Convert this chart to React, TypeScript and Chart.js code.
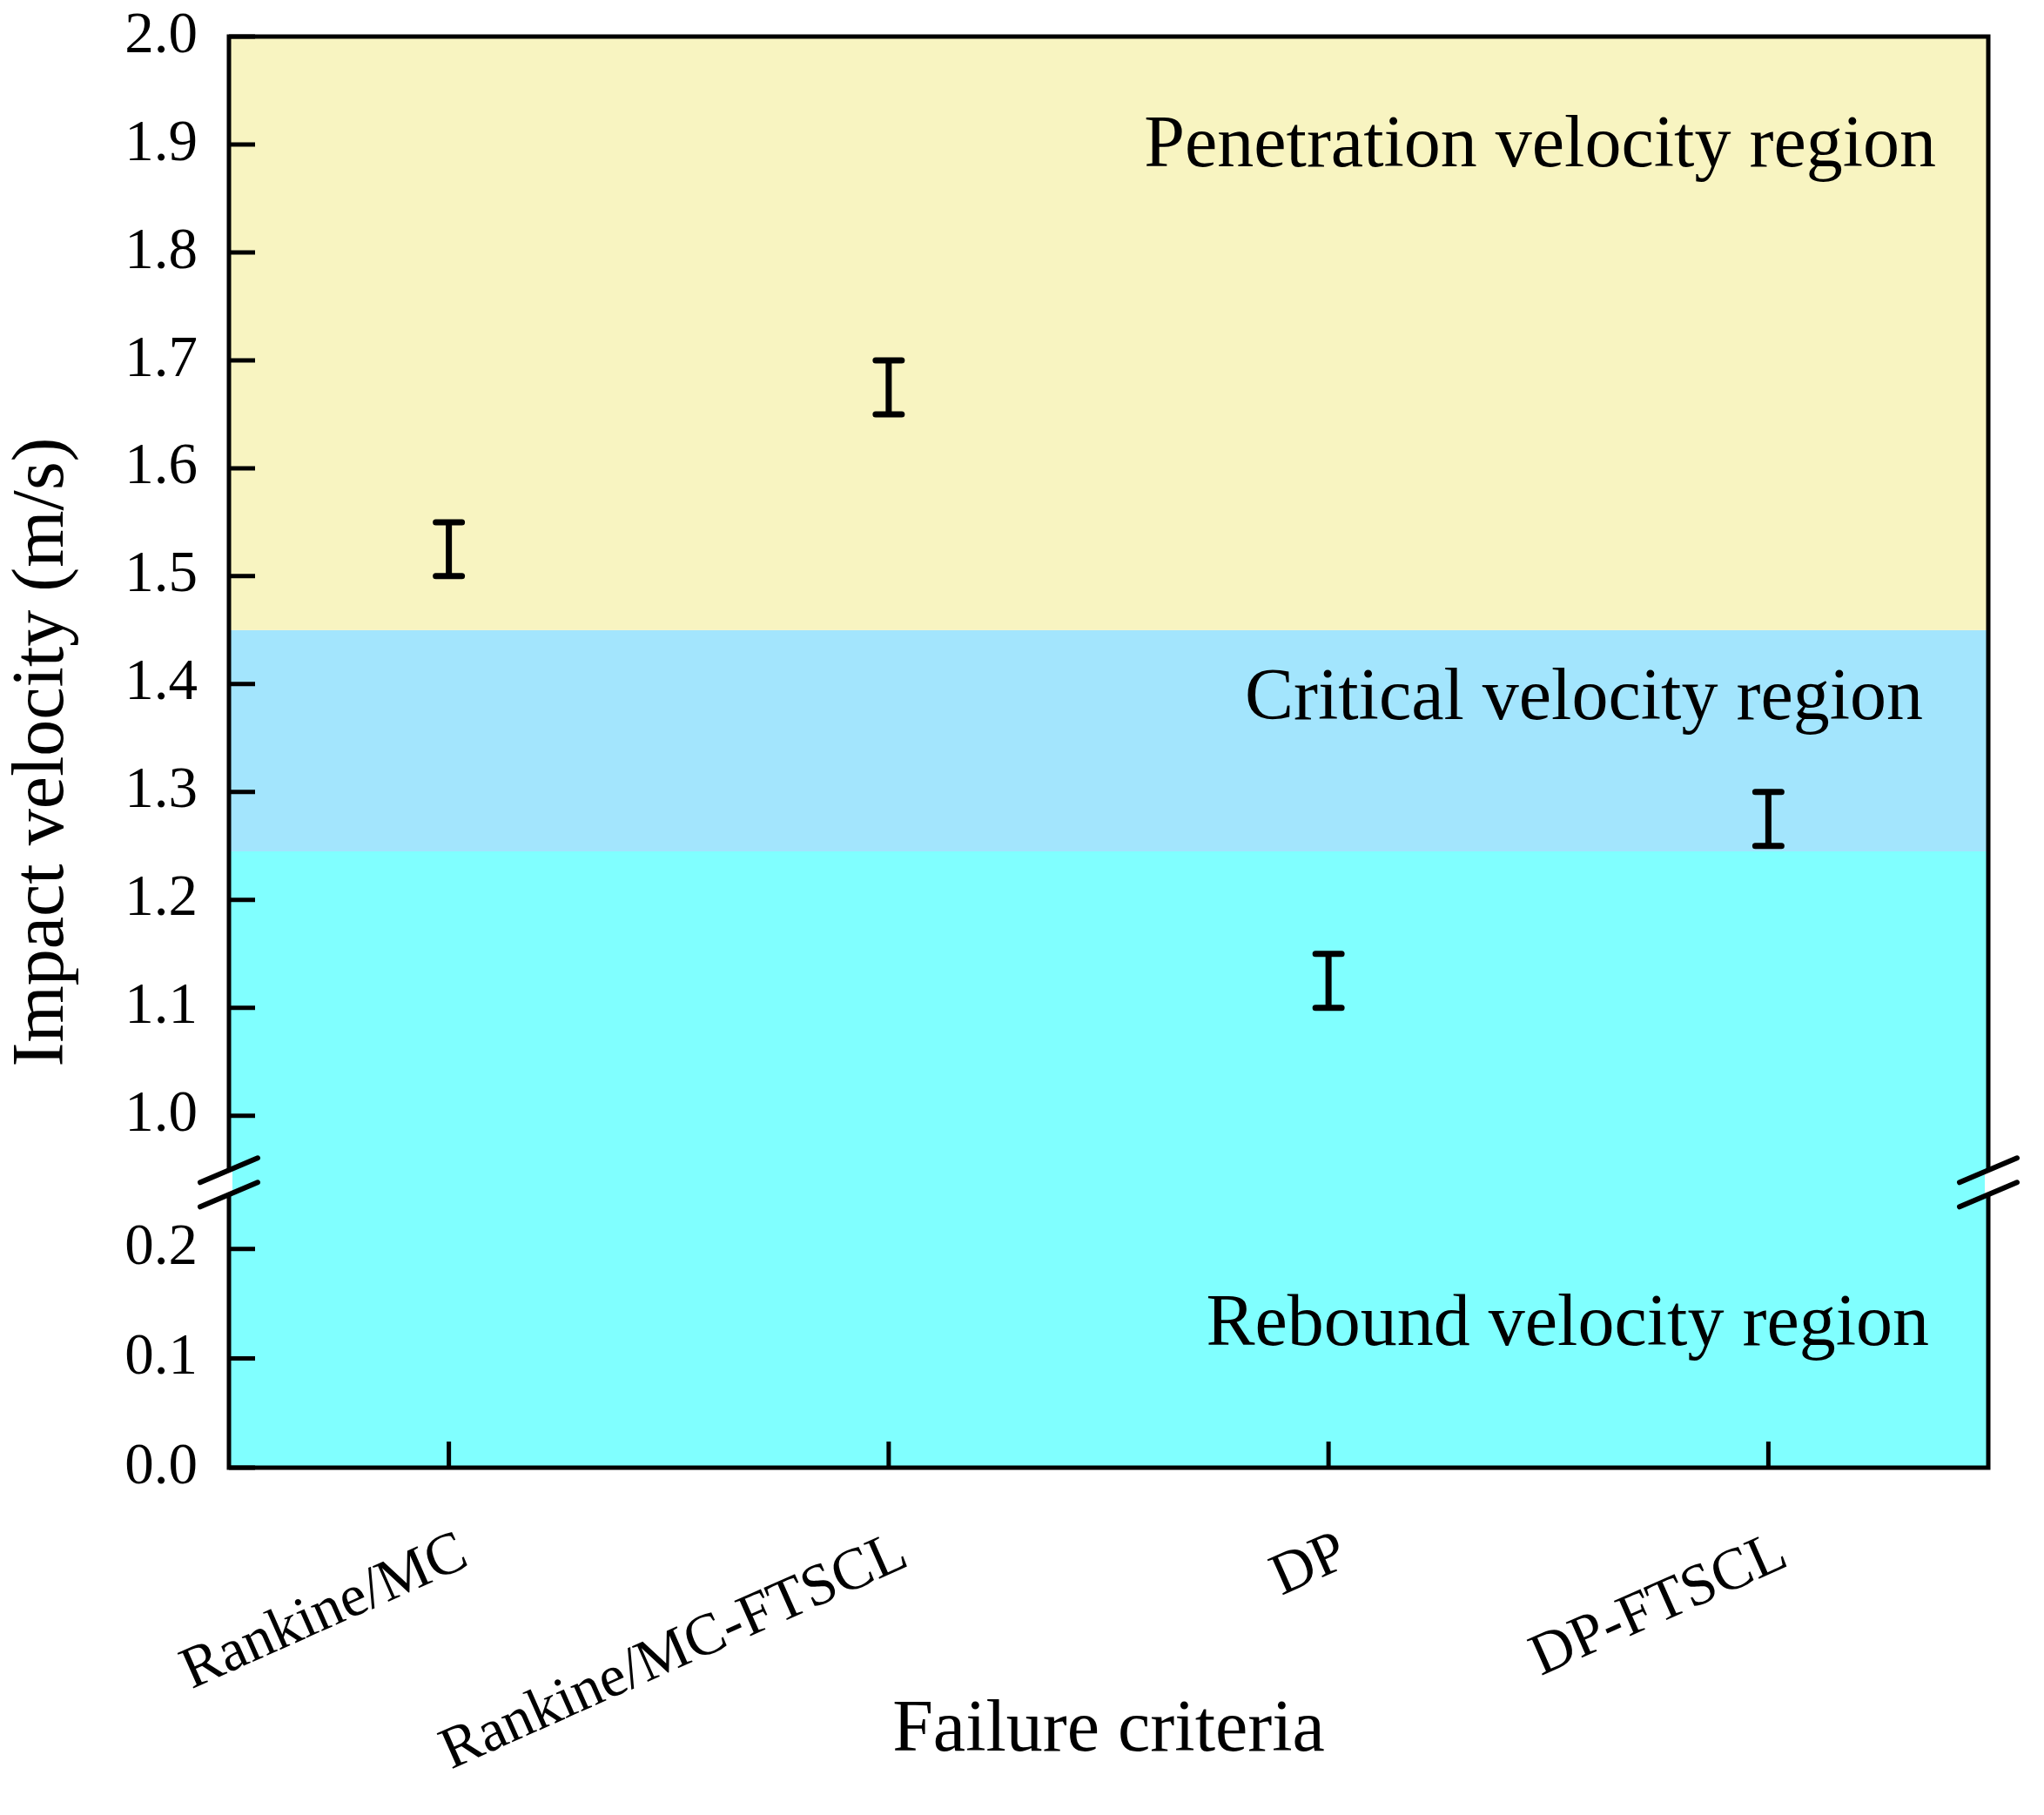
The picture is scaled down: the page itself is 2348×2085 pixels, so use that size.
import React, { useEffect, useRef } from "react";
import { Chart, registerables } from "chart.js";

Chart.register(...registerables);

// ---------- data ----------
const categories = ["Rankine/MC", "Rankine/MC-FTSCL", "DP", "DP-FTSCL"];
const velocityLow = [1.5, 1.65, 1.1, 1.25];
const velocityHigh = [1.55, 1.7, 1.15, 1.3];
const yTickValues = [0.0, 0.1, 0.2, 1.0, 1.1, 1.2, 1.3, 1.4, 1.5, 1.6, 1.7, 1.8, 1.9, 2.0];
const regionNames = ["Rebound velocity region", "Critical velocity region", "Penetration velocity region"];
const regionFrom = [0.0, 1.245, 1.45];
const regionTo = [1.245, 1.45, 2.0];
const regionLabelAt = [0.112, 1.368, 1.88];
const regionColors = ["#80FFFF", "#A3E5FD", "#F8F4C1"];

// ---------- broken axis mapping (0–0.2 | break | 1.0–2.0) ----------
const LOWER_MAX = 0.2;
const UPPER_MIN = 1.0;
const LOWER_STRETCH = 1.013;
const BREAK_GAP = 0.1235;
const UPPER_BASE = LOWER_MAX * LOWER_STRETCH + BREAK_GAP;
const toAxis = (v: number) => (v <= 0.6 ? v * LOWER_STRETCH : UPPER_BASE + (v - UPPER_MIN));
const fromAxis = (a: number) =>
  a <= (LOWER_MAX * LOWER_STRETCH + UPPER_BASE) / 2 ? a / LOWER_STRETCH : a - UPPER_BASE + UPPER_MIN;
const AXIS_MAX = toAxis(2.0);

const FONT = '"Liberation Serif", "Times New Roman", serif';
const regionRightInset = [68, 75, 60];

const overlayPlugin = {
  id: "overlay",
  afterDraw(chart: any) {
    const { ctx, chartArea: ca, scales } = chart;
    const xs = scales.x;
    const ys = scales.y;
    ctx.save();

    // background regions
    for (let i = 0; i < regionNames.length; i++) {
      const yTop = ys.getPixelForValue(toAxis(regionTo[i]));
      const yBot = ys.getPixelForValue(toAxis(regionFrom[i]));
      ctx.fillStyle = regionColors[i];
      ctx.fillRect(ca.left, yTop, ca.right - ca.left, yBot - yTop);
    }

    // region labels
    ctx.fillStyle = "#000";
    ctx.font = `84px ${FONT}`;
    ctx.textAlign = "right";
    ctx.textBaseline = "alphabetic";
    for (let i = 0; i < regionNames.length; i++) {
      ctx.fillText(regionNames[i], ca.right - regionRightInset[i], ys.getPixelForValue(toAxis(regionLabelAt[i])));
    }

    // error bars
    ctx.strokeStyle = "#000";
    ctx.lineWidth = 7;
    ctx.lineCap = "round";
    for (let i = 0; i < categories.length; i++) {
      const x = xs.getPixelForValue(i);
      const yT = ys.getPixelForValue(toAxis(velocityHigh[i]));
      const yB = ys.getPixelForValue(toAxis(velocityLow[i]));
      ctx.beginPath();
      ctx.moveTo(x, yT);
      ctx.lineTo(x, yB);
      ctx.moveTo(x - 15, yT);
      ctx.lineTo(x + 15, yT);
      ctx.moveTo(x - 15, yB);
      ctx.lineTo(x + 15, yB);
      ctx.stroke();
    }

    // inward ticks
    ctx.lineCap = "butt";
    ctx.lineWidth = 5;
    ctx.beginPath();
    for (let i = 0; i < categories.length; i++) {
      const x = xs.getPixelForValue(i);
      ctx.moveTo(x, ca.bottom);
      ctx.lineTo(x, ca.bottom - 30);
    }
    for (const t of ys.ticks) {
      const y = ys.getPixelForValue(t.value);
      ctx.moveTo(ca.left, y);
      ctx.lineTo(ca.left + 30, y);
    }
    ctx.stroke();

    // frame
    ctx.lineJoin = "miter";
    ctx.lineWidth = 5;
    ctx.strokeRect(ca.left, ca.top, ca.right - ca.left, ca.bottom - ca.top);

    // axis break marks
    const yc = (ys.getPixelForValue(toAxis(LOWER_MAX)) + ys.getPixelForValue(toAxis(UPPER_MIN))) / 2;
    for (const ax of [ca.left, ca.right]) {
      ctx.fillStyle = "#fff";
      ctx.fillRect(ax - 4, yc - 14, 8, 28);
      ctx.lineWidth = 6;
      ctx.lineCap = "round";
      ctx.beginPath();
      for (const d of [-14, 14]) {
        ctx.moveTo(ax - 33, yc + d + 14);
        ctx.lineTo(ax + 33, yc + d - 14);
      }
      ctx.stroke();
    }
    ctx.restore();
  },
};

export default function App() {
  const ref = useRef<HTMLCanvasElement>(null);
  useEffect(() => {
    if (!ref.current) return;
    Chart.defaults.font.family = FONT;
    Chart.defaults.color = "#000";
    const chart = new Chart(ref.current, {
      type: "line",
      data: {
        labels: categories,
        datasets: [
          {
            label: "Impact velocity",
            data: categories.map((_, i) => toAxis((velocityLow[i] + velocityHigh[i]) / 2)),
            showLine: false,
            pointRadius: 0,
            borderColor: "rgba(0,0,0,0)",
            backgroundColor: "rgba(0,0,0,0)",
          },
        ],
      },
      options: {
        animation: false,
        responsive: false,
        devicePixelRatio: 1,
        layout: { padding: { left: 0, right: 64, top: 42, bottom: 46 } },
        plugins: { legend: { display: false }, tooltip: { enabled: false } },
        scales: {
          x: {
            type: "category",
            offset: true,
            grid: { display: false },
            border: { display: false },
            ticks: {
              autoSkip: false,
              minRotation: 24,
              maxRotation: 24,
              padding: 50,
              labelOffset: 18,
              color: "#000",
              font: { family: FONT, size: 68 },
            },
            title: {
              display: true,
              text: "Failure criteria",
              color: "#000",
              padding: 0,
              font: { family: FONT, size: 84 },
            },
            afterFit: (s: any) => {
              s.height = 353;
              s.paddingLeft = 0;
              s.paddingRight = 0;
            },
          },
          y: {
            type: "linear",
            min: 0,
            max: AXIS_MAX,
            grid: { display: false },
            border: { display: false },
            afterBuildTicks: (s: any) => {
              s.ticks = yTickValues.map((v) => ({ value: toAxis(v) }));
            },
            ticks: {
              padding: 28,
              color: "#000",
              font: { family: FONT, size: 67 },
              callback: (value: any) => fromAxis(Number(value)).toFixed(1),
            },
            title: {
              display: true,
              text: "Impact velocity (m/s)",
              color: "#000",
              padding: 0,
              font: { family: FONT, size: 84 },
            },
            afterFit: (s: any) => {
              s.width = 263;
              s.paddingTop = 0;
              s.paddingBottom = 0;
            },
          },
        },
      },
      plugins: [overlayPlugin],
    } as any);
    return () => chart.destroy();
  }, []);
  return (
    <div style={{ position: "fixed", left: 0, top: 0, width: 2348, height: 2085, background: "#fff" }}>
      <canvas ref={ref} width={2348} height={2085} style={{ width: 2348, height: 2085, display: "block" }} />
    </div>
  );
}
